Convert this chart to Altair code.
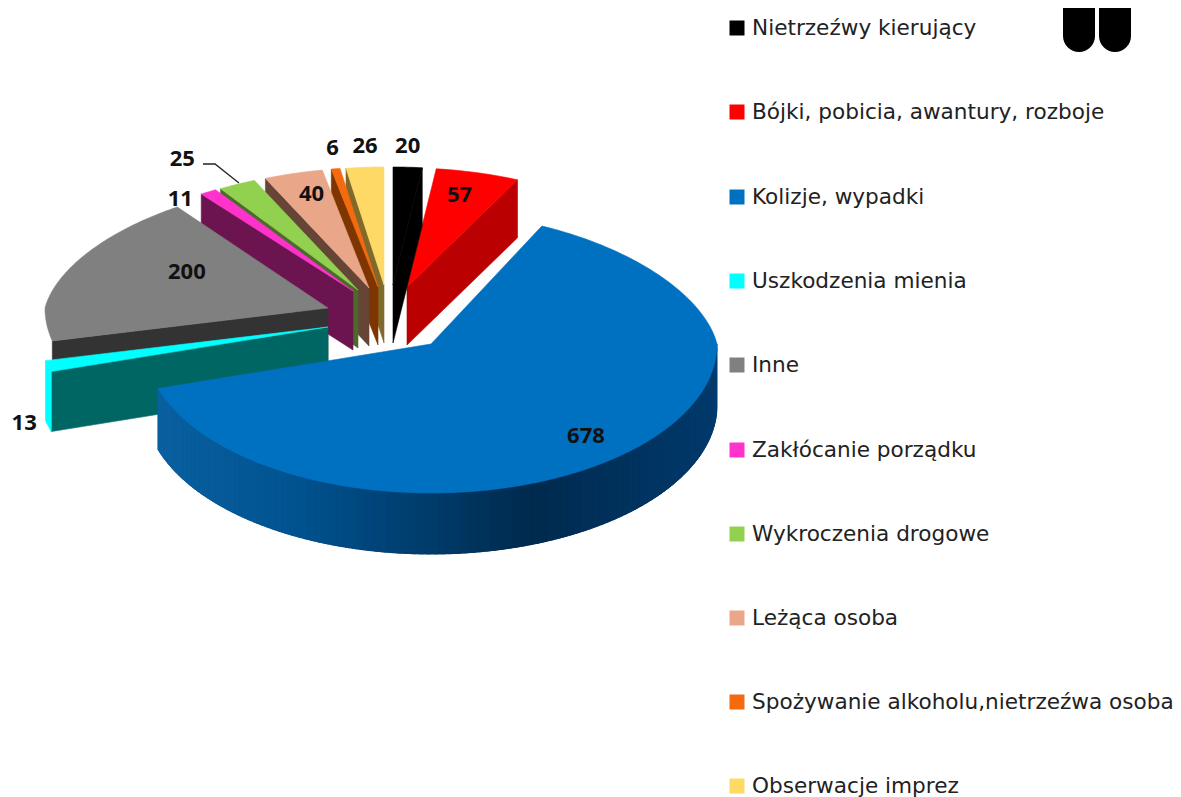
import math
import altair as alt

CATEGORIES = ["Nietrzeźwy kierujący", "Bójki, pobicia, awantury, rozboje", "Kolizje, wypadki",
              "Uszkodzenia mienia", "Inne", "Zakłócanie porządku", "Wykroczenia drogowe",
              "Leżąca osoba", "Spożywanie alkoholu,nietrzeźwa osoba", "Obserwacje imprez"]
VALUES = [20, 57, 678, 13, 200, 11, 25, 40, 6, 26]

COLORS = ["#000000", "#FF0000", "#0070C0", "#00FFFF", "#808080", "#FF33CC", "#92D050",
          "#E9A688", "#F46A0F", "#FFD966"]
SIDES = ["#000000", "#BA0000", "#005A9A", "#006664", "#333333", "#6B1450", "#4A6B2A",
         "#664436", "#7F3500", "#7F6A2B"]
# explosion of each slice: apex x, apex y, rx, back ry, front ry, depth
GEOM = [(393, 285, 285, 118, 149, 58), (407, 287, 285, 119, 149, 58), (431, 344, 286, 131, 149, 61),
        (328, 327, 290, 120, 149, 60), (328, 308, 283, 125, 146, 60), (353, 291, 285, 120, 149, 59),
        (358, 290, 285, 120, 149, 58), (369, 288, 285, 120, 149, 58), (378, 287, 285, 120, 149, 58),
        (384, 285, 285, 118, 149, 58)]
LABEL_SHIFT = [(0, -21), (-18, 22), (-32, -21), (-24, 57), (113, 8), (-28, 7), (-55, -25), (18, 21),
               (-3, -21), (0, -21)]
DRAW_ORDER = [1, 0, 9, 8, 7, 6, 5, 4, 3, 2]
GRADIENT = [(157, (10, 96, 160)), (300, (0, 82, 143)), (530, (0, 42, 78)), (717, (0, 58, 108))]
LEGEND_ROWS = [29, 113, 198, 282, 366, 451, 535, 619, 703, 787]

total = sum(VALUES)
edges = [0]
for v in VALUES:
    edges.append(edges[-1] + v / total * 360)


def project(i, theta, drop=0):
    ax, ay, rx, ryb, ryf, _ = GEOM[i]
    s, c = math.sin(math.radians(theta)), math.cos(math.radians(theta))
    k = 1 - 0.12 * c if c > 0 else 1
    return [ax + rx * s * k, ay - c * (ryb if c > 0 else ryf) + drop]


def arc(i, t0, t1, drop=0, step=1.0):
    n = max(2, int(abs(t1 - t0) / step) + 1)
    return [project(i, t0 + (t1 - t0) * j / (n - 1), drop) for j in range(n)]


def feature(points, fill):
    ring = points + [points[0]]
    return {"type": "Feature", "properties": {"fill": fill},
            "geometry": {"type": "Polygon", "coordinates": [ring]}}


def gradient(x):
    for (x0, c0), (x1, c1) in zip(GRADIENT, GRADIENT[1:]):
        if x <= x1:
            t = max(0, (x - x0) / (x1 - x0))
            return "#%02x%02x%02x" % tuple(round(a + (b - a) * t) for a, b in zip(c0, c1))
    return "#%02x%02x%02x" % GRADIENT[-1][1]


features = []
for i in DRAW_ORDER:
    t0, t1 = edges[i], edges[i + 1]
    ax, ay, _, _, _, d = GEOM[i]
    apex, low = [ax, ay], [ax, ay + d]
    if t1 <= 180:  # right half: the clockwise edge faces the viewer
        features.append(feature([apex, project(i, t1), project(i, t1, d), low], SIDES[i]))
    elif t0 >= 180:  # left half: the anticlockwise edge faces the viewer
        features.append(feature([apex, project(i, t0), project(i, t0, d), low], SIDES[i]))
        if i == 3:
            features.append(feature(arc(i, t0, t1) + arc(i, t1, t0, d), COLORS[i]))
    else:  # the big slice shows its rim as a shaded strip; strips overlap so no seams show
        a = max(t0, 90)
        while a < t1:
            b = min(a + 4, t1)
            pts = arc(i, a, b) + arc(i, b, a, d)
            features.append(feature(pts, gradient(project(i, a + 0.75)[0])))
            a += 1.5
    features.append(feature([apex] + arc(i, t0, t1), COLORS[i]))

labels = []
for i, v in enumerate(VALUES):
    x, y = project(i, (edges[i] + edges[i + 1]) / 2)
    labels.append({"x": x + LABEL_SHIFT[i][0], "y": y + LABEL_SHIFT[i][1], "t": str(v)})

legend = [{"name": n, "col": c, "y": y, "sq": y - 1, "xs": 737, "xt": 752}
          for n, c, y in zip(CATEGORIES, COLORS, LEGEND_ROWS)]

leader = [{"x": 203, "y": 164, "o": 0}, {"x": 215, "y": 164, "o": 1}, {"x": 239, "y": 183, "o": 2}]
pills = [{"a": 1063, "b": 1095, "t": 0, "u": 52}, {"a": 1099, "b": 1131, "t": 0, "u": 52}]

X = alt.Scale(domain=[8, 1173], range=[0, 1165])
Y = alt.Scale(domain=[8, 808], range=[0, 800])

pie = alt.Chart(alt.Data(values=features)).mark_geoshape(strokeWidth=0.6).encode(
    fill=alt.Fill("properties.fill:N", scale=None, legend=None),
    stroke=alt.Stroke("properties.fill:N", scale=None, legend=None),
).project(type="identity", scale=1, translate=[-8, -8])

lab = alt.Chart(alt.Data(values=labels)).mark_text(
    font="Open Sans", fontSize=22, fontWeight="bold", color="#111111", align="center", baseline="middle"
).encode(x=alt.X("x:Q", scale=X, axis=None), y=alt.Y("y:Q", scale=Y, axis=None), text="t:N")

lead = alt.Chart(alt.Data(values=leader)).mark_line(color="#222222", strokeWidth=1.3).encode(
    x=alt.X("x:Q", scale=X, axis=None), y=alt.Y("y:Q", scale=Y, axis=None), order="o:Q")

squares = alt.Chart(alt.Data(values=legend)).mark_point(shape="square", filled=True, size=225, opacity=1).encode(
    x=alt.X("xs:Q", scale=X, axis=None), y=alt.Y("sq:Q", scale=Y, axis=None),
    fill=alt.Fill("col:N", scale=None, legend=None), color=alt.value(None))

texts = alt.Chart(alt.Data(values=legend)).mark_text(
    font="DejaVu Sans", fontSize=21.6, color="#222222", align="left", baseline="middle"
).encode(x=alt.X("xt:Q", scale=X, axis=None), y=alt.Y("y:Q", scale=Y, axis=None), text="name:N")

bars = alt.Chart(alt.Data(values=pills)).mark_bar(
    color="#000000", cornerRadiusBottomLeft=16, cornerRadiusBottomRight=16
).encode(x=alt.X("a:Q", scale=X, axis=None), x2="b:Q", y=alt.Y("t:Q", scale=Y, axis=None), y2="u:Q")

chart = alt.layer(pie, lead, lab, squares, texts, bars).properties(
    width=1165, height=800, padding=0, autosize=alt.AutoSizeParams(type="none")
).configure_view(stroke=None)

chart.save("out.html", embed_options={"renderer": "svg", "actions": False})
